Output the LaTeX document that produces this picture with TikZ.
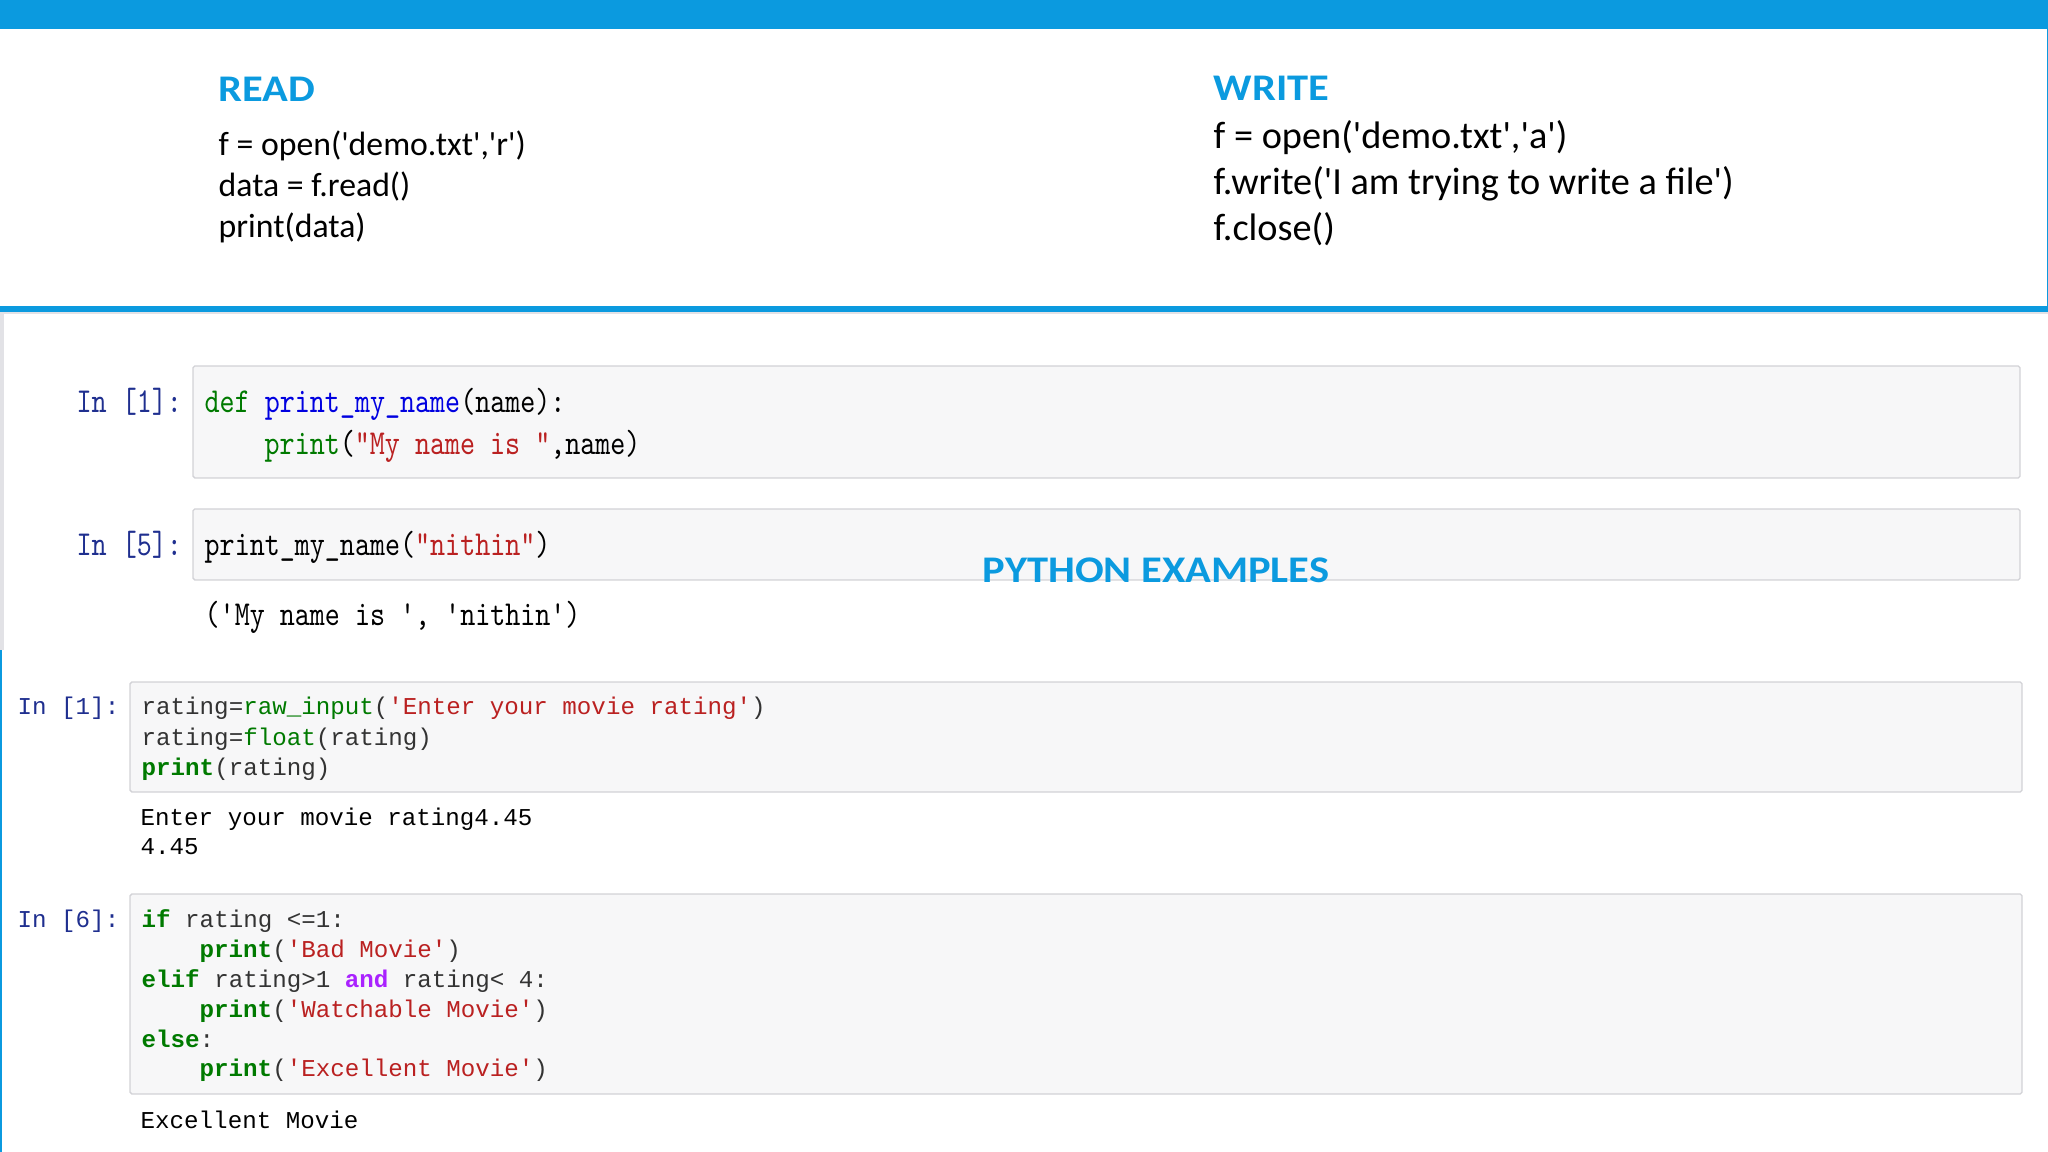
\documentclass[tikz,border=0pt]{standalone}
\usepackage{xcolor}
\usepackage{fontspec}
\newfontfamily\slidefont{Carlito}
\newfontfamily\headfont[FakeStretch=1.13]{Carlito}
\newfontfamily\oldcode[FakeStretch=0.818]{Latin Modern Mono}
\newfontfamily\newcode{Liberation Mono}
\definecolor{slideblue}{HTML}{0B9ADF}
\definecolor{cellfill}{HTML}{F7F7F8}
\definecolor{cellline}{HTML}{D2D2D6}
\definecolor{stripgray}{HTML}{E2E2E6}
\definecolor{pykey}{HTML}{007A00}
\definecolor{pyfunc}{HTML}{0000E0}
\definecolor{pystr}{HTML}{BA2121}
\definecolor{pyprompt}{HTML}{1F2F8F}
\definecolor{pyand}{HTML}{AA22FF}
\definecolor{pytext}{HTML}{333333}
\newcommand{\kw}[1]{\textcolor{pykey}{#1}}
\newcommand{\kwb}[1]{\textcolor{pykey}{\bfseries #1}}
\newcommand{\st}[1]{\textcolor{pystr}{#1}}
\begin{document}
\begin{tikzpicture}[
        heading/.style={anchor=base west, inner sep=0pt, text=slideblue, font=\headfont\bfseries\fontsize{10.7}{12}\selectfont},
        readline/.style={anchor=base west, inner sep=0pt, font=\slidefont\fontsize{9.6}{12}\selectfont},
        writeline/.style={anchor=base west, inner sep=0pt, font=\slidefont\fontsize{10.9}{12}\selectfont},
        cell/.style={rectangle, draw=cellline, fill=cellfill, line width=0.4pt, rounded corners=0.5pt, anchor=north west, outer sep=0pt, inner sep=0pt},
        oldline/.style={anchor=base west, inner sep=0pt, font=\oldcode\fontsize{9.96}{12}\selectfont},
        newline/.style={anchor=base west, inner sep=0pt, text=pytext, font=\newcode\fontsize{6.88}{9}\selectfont},
        oldprompt/.style={oldline, text=pyprompt},
        newprompt/.style={newline, text=pyprompt}
    ]
        \useasboundingbox (0,0) rectangle (20.48,-11.52);

        % frame of the slide
        \fill[slideblue] (0,0) rectangle (20.48,-0.29);
        \fill[slideblue] (0,-3.06) rectangle (20.48,-3.12);
        \fill[stripgray] (0,-3.12) rectangle (20.48,-3.14);
        \fill[slideblue] (20.465,-0.29) rectangle (20.48,-3.06);
        \fill[stripgray] (0,-3.14) rectangle (0.04,-6.50);
        \fill[slideblue] (0,-6.50) rectangle (0.02,-11.52);

        % read and write
        \node[heading] (read) at (2.18,-1.02) {READ};
        \node[readline] (read-a) at (2.18,-1.56) {f = open('demo.txt','r')};
        \node[readline] (read-b) at (2.18,-1.97) {data = f.read()};
        \node[readline] (read-c) at (2.18,-2.38) {print(data)};

        \node[heading] (write) at (12.13,-1.01) {WRITE};
        \node[writeline] (write-a) at (12.13,-1.49) {f = open('demo.txt','a')};
        \node[writeline] (write-b) at (12.13,-1.95) {f.write('I am trying to write a file')};
        \node[writeline] (write-c) at (12.13,-2.41) {f.close()};

        % upper notebook
        \node[cell, minimum width=18.27cm, minimum height=1.12cm] (cell-def) at (1.93,-3.66) {};
        \node[cell, minimum width=18.27cm, minimum height=0.71cm] (cell-call) at (1.93,-5.09) {};
        \node[oldprompt] (in-def) at (0.76,-4.125) {In [1]:};
        \node[oldprompt] (in-call) at (0.76,-5.555) {In [5]:};
        \node[oldline] (def-a) at (2.04,-4.125) {\kw{def} \textcolor{pyfunc}{print\_my\_name}(name):};
        \node[oldline] (def-b) at (2.64,-4.545) {\kw{print}(\st{"My name is "},name)};
        \node[oldline] (call-a) at (2.04,-5.555) {print\_my\_name(\st{"nithin"})};
        \node[oldline] (call-out) at (2.04,-6.255) {('My name is ', 'nithin')};

        \node[heading] (python) at (9.82,-5.83) {PYTHON EXAMPLES};

        % lower notebook
        \node[cell, minimum width=18.92cm, minimum height=1.10cm] (cell-rate) at (1.30,-6.82) {};
        \node[cell, minimum width=18.92cm, minimum height=2.00cm] (cell-if) at (1.30,-8.94) {};
        \node[newprompt] (in-rate) at (0.17,-7.15) {In [1]:};
        \node[newprompt] (in-if) at (0.17,-9.28) {In [6]:};
        \node[newline] (rate-a) at (1.41,-7.15) {rating=\kw{raw\_input}(\st{'Enter your movie rating'})};
        \node[newline] (rate-b) at (1.41,-7.45) {rating=\kw{float}(rating)};
        \node[newline] (rate-c) at (1.41,-7.75) {\kwb{print}(rating)};
        \node[newline, text=black] (rate-out-a) at (1.40,-8.26) {Enter your movie rating4.45};
        \node[newline, text=black] (rate-out-b) at (1.40,-8.55) {4.45};
        \node[newline] (if-a) at (1.41,-9.28) {\kwb{if} rating <=1:};
        \node[newline] (if-b) at (1.99,-9.57) {\kwb{print}(\st{'Bad Movie'})};
        \node[newline] (if-c) at (1.41,-9.87) {\kwb{elif} rating>1 \textcolor{pyand}{\bfseries and} rating< 4:};
        \node[newline] (if-d) at (1.99,-10.17) {\kwb{print}(\st{'Watchable Movie'})};
        \node[newline] (if-e) at (1.41,-10.47) {\kwb{else}:};
        \node[newline] (if-f) at (1.99,-10.76) {\kwb{print}(\st{'Excellent Movie'})};
        \node[newline, text=black] (if-out) at (1.40,-11.28) {Excellent Movie};
    \end{tikzpicture}
\end{document}
